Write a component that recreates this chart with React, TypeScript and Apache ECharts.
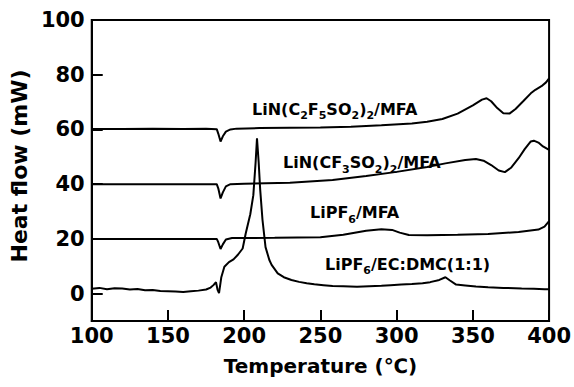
import React, { useEffect, useRef } from "react";
import * as echarts from "echarts";

const FONT = "'DejaVu Sans', 'Liberation Sans', Arial, sans-serif";

const xTicks = [100, 150, 200, 250, 300, 350, 400];
const yTickLabels = [0, 20, 40, 60, 80, 100];

const seriesNames = [
  "LiN(C2F5SO2)2/MFA",
  "LiN(CF3SO2)2/MFA",
  "LiPF6/MFA",
  "LiPF6/EC:DMC(1:1)",
];

const curveC2F5: [number, number][] = [
  [100, 60.2], [120, 60.2], [140, 60.3], [160, 60.2], [175, 60.3], [182, 60.1],
  [183, 58.5], [184.5, 55.6], [186, 57.5], [188, 59.2], [191, 60], [195, 60.3],
  [210, 60.5], [230, 60.6], [250, 60.7], [270, 61], [290, 61.5], [310, 62.2],
  [320, 62.8], [330, 63.8], [340, 65.8], [350, 68.8], [356, 70.9], [359, 71.4],
  [362, 70.3], [366, 67.8], [370, 65.9], [374, 65.8], [378, 67.5], [383, 70.3],
  [388, 73.2], [391, 74.5], [395, 75.8], [398, 77.2], [400, 78.7],
];

const curveCF3: [number, number][] = [
  [100, 40], [140, 40], [182, 40], [183, 38.5], [184.5, 34.8], [186, 37],
  [188, 39.2], [191, 40], [200, 40.2], [230, 40.5], [258, 41.5], [280, 43],
  [300, 44.5], [320, 46.3], [332, 47.6], [345, 48.8], [352, 49.2], [357, 48.6],
  [362, 47], [367, 45], [371, 44.4], [375, 46], [380, 49.5], [384, 52.8],
  [388, 55.6], [390, 55.9], [393, 55.2], [396, 53.8], [400, 52.5],
];

const curvePF6MFA: [number, number][] = [
  [100, 20], [150, 20], [182, 20], [183, 18.8], [184.5, 16.3], [186, 18],
  [188, 19.8], [192, 20.3], [220, 20.4], [250, 20.6], [265, 21.5], [280, 23],
  [290, 23.5], [297, 23.3], [302, 22.3], [308, 21.4], [320, 21.3], [340, 21.5],
  [360, 21.8], [380, 22.5], [393, 23.4], [397, 24.5], [400, 26.5],
];

const curveECDMC: [number, number][] = [
  [100, 1.8], [105, 2.1], [110, 1.6], [115, 2.0], [120, 1.9], [125, 1.5],
  [130, 1.7], [135, 1.2], [140, 1.3], [145, 1.0], [150, 0.9], [155, 0.8],
  [160, 0.6], [165, 0.9], [170, 1.1], [175, 1.5], [178, 2.2], [180, 3.2],
  [181.5, 4.2], [182.5, 1.5], [183.5, 0.2], [185, 6], [187, 9.8], [190, 11.5],
  [193, 12.5], [196, 14.3], [199, 16.5], [201, 22], [204, 29], [206, 36],
  [207.5, 48], [208.4, 56.8], [209.5, 48], [210.5, 38], [212, 27], [214, 17],
  [216.5, 12.3], [218, 10.5], [222, 7.4], [226, 6], [231, 5], [236, 4.3],
  [241, 3.8], [246, 3.4], [252, 3.1], [258, 2.8], [265, 2.7], [274, 2.5],
  [282, 2.7], [290, 2.9], [296, 3.1], [303, 3.3], [310, 3.5], [317, 3.8],
  [322, 4.2], [328, 5], [332, 6], [335, 4.8], [339, 3.3], [345, 3.0],
  [352, 2.6], [360, 2.3], [370, 2.1], [382, 1.9], [390, 1.8], [397, 1.6],
  [400, 1.6],
];

const curves = [curveC2F5, curveCF3, curvePF6MFA, curveECDMC];

const labelTexts = [
  "{a|LiN(C}{s|2}{a|F}{s|5}{a|SO}{s|2}{a|)}{s|2}{a|/MFA}",
  "{a|LiN(CF}{s|3}{a|SO}{s|2}{a|)}{s|2}{a|/MFA}",
  "{a|LiPF}{s|6}{a|/MFA}",
  "{a|LiPF}{s|6}{a|/EC:DMC(1:1)}",
];
const labelPos = [
  [252, 109],
  [283, 162.5],
  [310, 212.5],
  [325, 264],
];

export default function App() {
  const ref = useRef<HTMLDivElement>(null);
  useEffect(() => {
    if (!ref.current) return;
    const chart = echarts.init(ref.current, null, { renderer: "svg" });
    const rich = {
      a: { fontSize: 16, fontWeight: "bold", fontFamily: FONT, color: "#000", lineHeight: 24, verticalAlign: "middle" },
      s: { fontSize: 11, fontWeight: "bold", fontFamily: FONT, color: "#000", lineHeight: 11, verticalAlign: "bottom" },
    };
    chart.setOption({
      animation: false,
      backgroundColor: "#fff",
      grid: {
        left: 89,
        right: 23,
        top: 20,
        bottom: 66,
        show: true,
        borderColor: "#000",
        borderWidth: 2,
        backgroundColor: "transparent",
      },
      xAxis: {
        type: "value",
        min: xTicks[0],
        max: xTicks[xTicks.length - 1],
        interval: 50,
        axisLine: { show: true, onZero: false, lineStyle: { color: "#000", width: 2 } },
        axisTick: { show: true, inside: true, length: 11, lineStyle: { color: "#000", width: 2 } },
        axisLabel: { color: "#000", fontSize: 21, fontWeight: "bold", fontFamily: FONT, margin: 4 },
        splitLine: { show: false },
        name: "Temperature (℃)",
        nameLocation: "middle",
        nameGap: 35,
        nameTextStyle: { color: "#000", fontSize: 20, fontWeight: "bold", fontFamily: FONT },
      },
      yAxis: {
        type: "value",
        min: -10,
        max: 100,
        interval: 10,
        axisLine: { show: true, onZero: false, lineStyle: { color: "#000", width: 2 } },
        axisTick: {
          show: true,
          inside: true,
          length: 11,
          customValues: yTickLabels,
          lineStyle: { color: "#000", width: 2 },
        },
        axisLabel: {
          color: "#000",
          fontSize: 21,
          fontWeight: "bold",
          fontFamily: FONT,
          margin: 7,
          customValues: yTickLabels,
        },
        splitLine: { show: false },
        name: "Heat flow (mW)",
        nameLocation: "middle",
        nameGap: 43,
        nameTextStyle: { color: "#000", fontSize: 22, fontWeight: "bold", fontFamily: FONT, padding: [0, 0, 0, 9] },
      },
      series: curves.map((d, i) => ({
        name: seriesNames[i],
        type: "line",
        data: d,
        showSymbol: false,
        symbol: "none",
        lineStyle: { color: "#000", width: 2 },
        itemStyle: { color: "#000" },
        z: 3,
      })),
      graphic: labelTexts.map((t, i) => ({
        type: "text",
        x: labelPos[i][0],
        y: labelPos[i][1],
        z: 10,
        style: {
          text: t,
          rich,
          align: "left",
          verticalAlign: "middle",
        },
      })),
    });
    return () => chart.dispose();
  }, []);
  return (
    <div
      ref={ref}
      style={{ position: "fixed", left: 0, top: 0, width: 574, height: 387, background: "#fff" }}
    />
  );
}
